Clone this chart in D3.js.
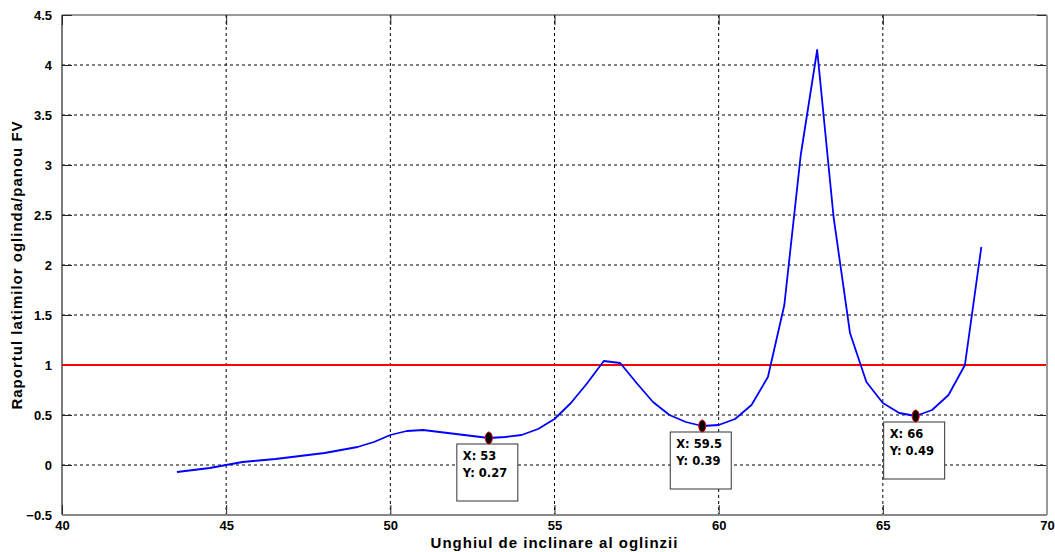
<!DOCTYPE html>
<html>
<head>
<meta charset="utf-8">
<script src="https://cdn.jsdelivr.net/npm/d3@7"></script>
<style>
body { margin: 0; background: #fff; }
</style>
</head>
<body>
<script>
var angles = [43.5, 44, 44.5, 45, 45.5, 46, 46.5, 47, 47.5, 48, 48.5, 49, 49.5, 50, 50.5, 51, 51.5, 52, 52.5, 53,
    53.5, 54, 54.5, 55, 55.5, 56, 56.5, 57, 57.5, 58, 58.5, 59, 59.5, 60, 60.5, 61, 61.5, 62, 62.5, 63,
    63.5, 64, 64.5, 65, 65.5, 66, 66.5, 67, 67.5, 68];
var ratios = [-0.07, -0.05, -0.03, 0.0, 0.03, 0.045, 0.06, 0.08, 0.1, 0.12, 0.15, 0.18, 0.23, 0.3, 0.34, 0.35, 0.33, 0.31, 0.29, 0.27,
    0.28, 0.3, 0.36, 0.46, 0.62, 0.82, 1.04, 1.02, 0.82, 0.63, 0.5, 0.43, 0.39, 0.4, 0.46, 0.6, 0.88, 1.6, 3.1, 4.15,
    2.48, 1.32, 0.83, 0.62, 0.52, 0.49, 0.55, 0.7, 1.0, 2.18];
var tipX = [53, 59.5, 66];
var tipY = [0.27, 0.39, 0.49];
var xTicks = [40, 45, 50, 55, 60, 65, 70];
var yTicks = [-0.5, 0, 0.5, 1, 1.5, 2, 2.5, 3, 3.5, 4, 4.5];
var threshold = 1;

var margin = {
        top: 15,
        right: 8,
        bottom: 37,
        left: 62
    },
    width = 1055 - margin.left - margin.right,
    height = 552 - margin.top - margin.bottom;

var svg = d3.select('body')
    .append('svg')
    .attr('width', 1055)
    .attr('height', 552);

var canvas = svg.append('g')
    .attr('transform', 'translate(' + margin.left + ',' + margin.top + ')');

var x = d3.scaleLinear().domain([40, 70]).range([0, width]);
var y = d3.scaleLinear().domain([-0.5, 4.5]).range([height, 0]);

// grid
canvas.append('g')
    .selectAll('line')
    .data(xTicks.slice(1, -1))
    .enter()
    .append('line')
    .attr('x1', function (d) { return x(d); })
    .attr('x2', function (d) { return x(d); })
    .attr('y1', 0)
    .attr('y2', height)
    .attr('stroke', '#000')
    .attr('stroke-width', 1)
    .attr('stroke-dasharray', '3,3');

canvas.append('g')
    .selectAll('line')
    .data(yTicks.slice(1, -1))
    .enter()
    .append('line')
    .attr('x1', 0)
    .attr('x2', width)
    .attr('y1', function (d) { return y(d); })
    .attr('y2', function (d) { return y(d); })
    .attr('stroke', '#000')
    .attr('stroke-width', 1)
    .attr('stroke-dasharray', '3,3');

// axes with inward ticks on all four sides
function styleAxis(g) {
    g.select('.domain').remove();
    g.selectAll('.tick line').attr('stroke', '#222');
    g.selectAll('.tick text')
        .attr('font-family', 'Liberation Sans, Arial, sans-serif')
        .attr('font-weight', 'bold')
        .attr('font-size', 13)
        .attr('fill', '#000');
}

canvas.append('g')
    .attr('transform', 'translate(0,' + height + ')')
    .call(d3.axisBottom(x).tickValues(xTicks).tickSize(-10).tickPadding(6).tickFormat(d3.format('d')))
    .call(styleAxis);

canvas.append('g')
    .call(d3.axisLeft(y).tickValues(yTicks).tickSize(-10).tickPadding(10).tickFormat(d3.format('')))
    .call(styleAxis);

canvas.append('g')
    .call(d3.axisTop(x).tickValues(xTicks).tickSize(-10).tickFormat(''))
    .call(styleAxis);

canvas.append('g')
    .attr('transform', 'translate(' + width + ',0)')
    .call(d3.axisRight(y).tickValues(yTicks).tickSize(-10).tickFormat(''))
    .call(styleAxis);

// box
canvas.append('line').attr('x1', 0).attr('x2', width).attr('y1', 0).attr('y2', 0)
    .attr('stroke', '#333').attr('stroke-width', 1.2);
canvas.append('line').attr('x1', 0).attr('x2', 0).attr('y1', 0).attr('y2', height)
    .attr('stroke', '#222').attr('stroke-width', 1.2);
canvas.append('line').attr('x1', 0).attr('x2', width).attr('y1', height).attr('y2', height)
    .attr('stroke', '#888').attr('stroke-width', 2);
canvas.append('line').attr('x1', width).attr('x2', width).attr('y1', 0).attr('y2', height)
    .attr('stroke', '#999').attr('stroke-width', 2);

// threshold line
canvas.append('line')
    .attr('x1', x(40))
    .attr('x2', x(70) - 1)
    .attr('y1', y(threshold))
    .attr('y2', y(threshold))
    .attr('stroke', '#FF0000')
    .attr('stroke-width', 2);

// data line
var line = d3.line()
    .x(function (d, i) { return x(angles[i]); })
    .y(function (d) { return y(d); });

canvas.append('path')
    .datum(ratios)
    .attr('d', line)
    .attr('fill', 'none')
    .attr('stroke', '#0000FF')
    .attr('stroke-width', 1.8)
    .attr('stroke-linejoin', 'round');

// data tips
var tips = canvas.selectAll('.tip')
    .data(tipX)
    .enter()
    .append('g')
    .attr('class', 'tip')
    .attr('transform', function (d, i) {
        return 'translate(' + x(d) + ',' + y(tipY[i]) + ')';
    });

tips.append('rect')
    .attr('x', -32)
    .attr('y', 6)
    .attr('width', 61)
    .attr('height', 57)
    .attr('fill', '#fff')
    .attr('stroke', '#333')
    .attr('stroke-width', 1);

tips.append('ellipse')
    .attr('rx', 3.5)
    .attr('ry', 6)
    .attr('fill', '#000')
    .attr('stroke', '#E00000')
    .attr('stroke-width', 1);

tips.append('text')
    .attr('x', -26)
    .attr('y', 22)
    .attr('font-family', 'DejaVu Sans, Verdana, sans-serif')
    .attr('font-weight', 'bold')
    .attr('font-size', 11.5)
    .attr('fill', '#000')
    .text(function (d) { return 'X: ' + d; });

tips.append('text')
    .attr('x', -26)
    .attr('y', 39)
    .attr('font-family', 'DejaVu Sans, Verdana, sans-serif')
    .attr('font-weight', 'bold')
    .attr('font-size', 11.5)
    .attr('fill', '#000')
    .text(function (d, i) { return 'Y: ' + tipY[i]; });

// axis titles
svg.append('text')
    .attr('x', margin.left + x(55))
    .attr('y', 548)
    .attr('text-anchor', 'middle')
    .attr('font-family', 'Liberation Sans, Arial, sans-serif')
    .attr('font-weight', 'bold')
    .attr('font-size', 15)
    .attr('letter-spacing', 1)
    .text('Unghiul de inclinare al oglinzii');

svg.append('text')
    .attr('transform', 'translate(22,' + (margin.top + height / 2) + ') rotate(-90)')
    .attr('text-anchor', 'middle')
    .attr('font-family', 'Liberation Sans, Arial, sans-serif')
    .attr('font-weight', 'bold')
    .attr('font-size', 15)
    .attr('letter-spacing', 1)
    .text('Raportul latimilor oglinda/panou FV');
</script>
</body>
</html>
